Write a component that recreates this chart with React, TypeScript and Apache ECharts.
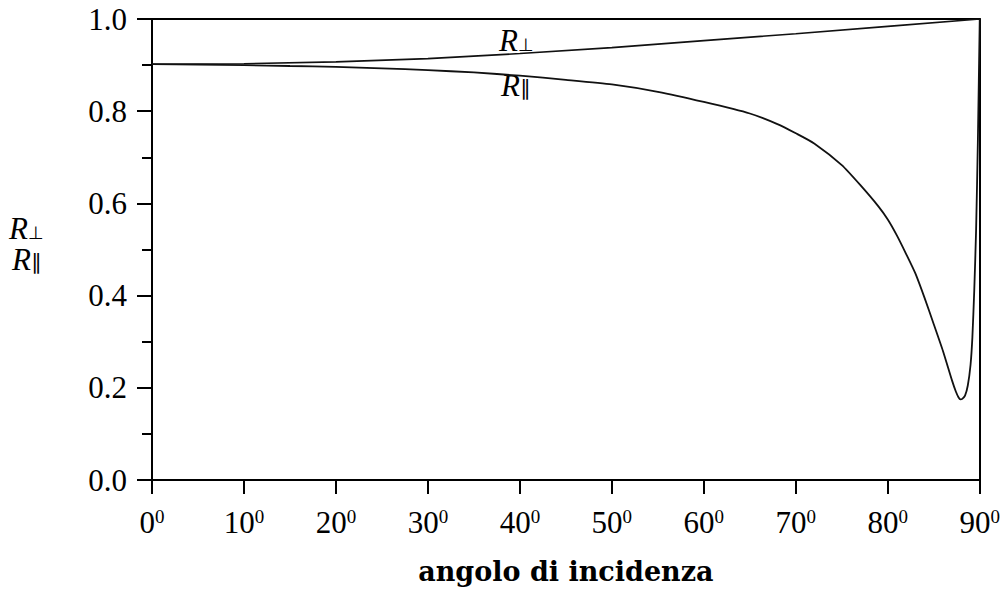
import React, { useEffect, useRef } from "react";
import * as echarts from "echarts";

// ---- data ----
const xTicks = [0, 10, 20, 30, 40, 50, 60, 70, 80, 90];
const yTicks = [0.0, 0.2, 0.4, 0.6, 0.8, 1.0];

const perpAngles = [0, 10, 20, 30, 40, 50, 60, 70, 80, 90];
const perpValues = [0.902, 0.903, 0.907, 0.914, 0.925, 0.938, 0.953, 0.968, 0.984, 1.0];

const parAngles = [
  0, 5, 10, 15, 20, 25, 30, 35, 40, 45, 50, 55, 60, 65, 68, 70, 72, 75, 77, 79, 80, 81, 82, 83, 84, 85,
  86, 87, 87.4, 87.7, 87.9, 88.1, 88.4, 88.7, 89.0, 89.2, 89.4, 89.6, 89.8, 90,
];
const parValues = [
  0.902, 0.901, 0.9, 0.898, 0.896, 0.893, 0.889, 0.884, 0.877, 0.868, 0.858, 0.842, 0.82, 0.795, 0.772,
  0.752, 0.73, 0.683, 0.64, 0.593, 0.565, 0.53, 0.49, 0.448, 0.395, 0.338, 0.28, 0.215, 0.192, 0.179,
  0.175, 0.176, 0.183, 0.205, 0.25, 0.31, 0.41, 0.54, 0.74, 1.0,
];

const xName = "angolo di incidenza";

export default function App() {
  const ref = useRef<HTMLDivElement>(null);
  useEffect(() => {
    document.body.style.margin = "0";
    const chart = echarts.init(ref.current!, undefined, { renderer: "svg" });
    const serif = "Liberation Serif";
    const lineColor = "#000";
    const perp = perpAngles.map((a, i) => [a, perpValues[i]]);
    const par = parAngles.map((a, i) => [a, parValues[i]]);
    const rStyle = { fontFamily: serif, fontStyle: "italic", fontSize: 31, lineHeight: 26, color: "#000" };
    const perpSub = { fontFamily: "DejaVu Sans", fontSize: 18, lineHeight: 14, verticalAlign: "bottom", color: "#000" };
    const parSub = { fontFamily: "DejaVu Sans", fontSize: 21, lineHeight: 6, verticalAlign: "bottom", color: "#000" };
    chart.setOption({
      animation: false,
      backgroundColor: "#fff",
      grid: { left: 152, right: 22, top: 19, bottom: 110, containLabel: false },
      xAxis: [
        {
          type: "value",
          min: 0,
          max: 90,
          interval: 10,
          position: "bottom",
          splitLine: { show: false },
          axisLine: { show: true, onZero: false, lineStyle: { color: lineColor, width: 2 } },
          axisTick: { show: true, length: 14, lineStyle: { color: lineColor, width: 2 } },
          axisLabel: {
            margin: 27,
            formatter: (v: number) => (xTicks.includes(v) ? `{b|${v}}{s|0}` : ""),
            rich: {
              b: { fontFamily: serif, fontSize: 31, lineHeight: 30, color: "#000" },
              s: { fontFamily: serif, fontSize: 19, lineHeight: 18, verticalAlign: "top", color: "#000" },
            },
          },
          name: xName,
          nameLocation: "middle",
          nameGap: 78,
          nameTextStyle: {
            fontFamily: "DejaVu Serif",
            fontWeight: "bold",
            fontSize: 27,
            color: "#000",
          },
        },
        {
          type: "value",
          min: 0,
          max: 90,
          position: "top",
          splitLine: { show: false },
          axisLine: { show: true, onZero: false, lineStyle: { color: lineColor, width: 2 } },
          axisTick: { show: false },
          axisLabel: { show: false },
        },
      ],
      yAxis: [
        {
          type: "value",
          min: 0,
          max: 1,
          interval: 0.2,
          position: "left",
          splitLine: { show: false },
          axisLine: { show: true, onZero: false, lineStyle: { color: lineColor, width: 2 } },
          axisTick: { show: true, length: 15, lineStyle: { color: lineColor, width: 2 } },
          minorTick: { show: true, splitNumber: 2, length: 10, lineStyle: { color: lineColor, width: 2 } },
          minorSplitLine: { show: false },
          axisLabel: {
            margin: 25,
            fontFamily: serif,
            fontSize: 31,
            color: "#000",
            formatter: (v: number) => {
              const t = yTicks.find((y) => Math.abs(y - v) < 1e-6);
              return t === undefined ? "" : t.toFixed(1);
            },
          },
        },
        {
          type: "value",
          min: 0,
          max: 1,
          position: "right",
          splitLine: { show: false },
          axisLine: { show: true, onZero: false, lineStyle: { color: lineColor, width: 2 } },
          axisTick: { show: false },
          axisLabel: { show: false },
        },
      ],
      series: [
        {
          type: "line",
          name: "R⊥",
          data: perp,
          showSymbol: false,
          symbol: "none",
          lineStyle: { color: "#111", width: 1.6 },
          z: 3,
        },
        {
          type: "line",
          name: "R∥",
          data: par,
          showSymbol: false,
          symbol: "none",
          smooth: 0.2,
          lineStyle: { color: "#111", width: 1.8 },
          z: 3,
        },
      ],
      graphic: [
        {
          type: "text",
          x: 9,
          y: 215,
          style: { text: "{r|R}{s|⊥}", rich: { r: rStyle, s: perpSub } },
        },
        {
          type: "text",
          x: 12,
          y: 246,
          style: { text: "{r|R}{s|∥}", rich: { r: rStyle, s: parSub } },
        },
        {
          type: "text",
          x: 499,
          y: 27,
          style: { text: "{r|R}{s|⊥}", rich: { r: rStyle, s: perpSub } },
        },
        {
          type: "text",
          x: 501,
          y: 72,
          style: { text: "{r|R}{s|∥}", rich: { r: rStyle, s: parSub } },
        },
      ],
    });
    return () => chart.dispose();
  }, []);
  return <div ref={ref} style={{ width: 1003, height: 590 }} />;
}
